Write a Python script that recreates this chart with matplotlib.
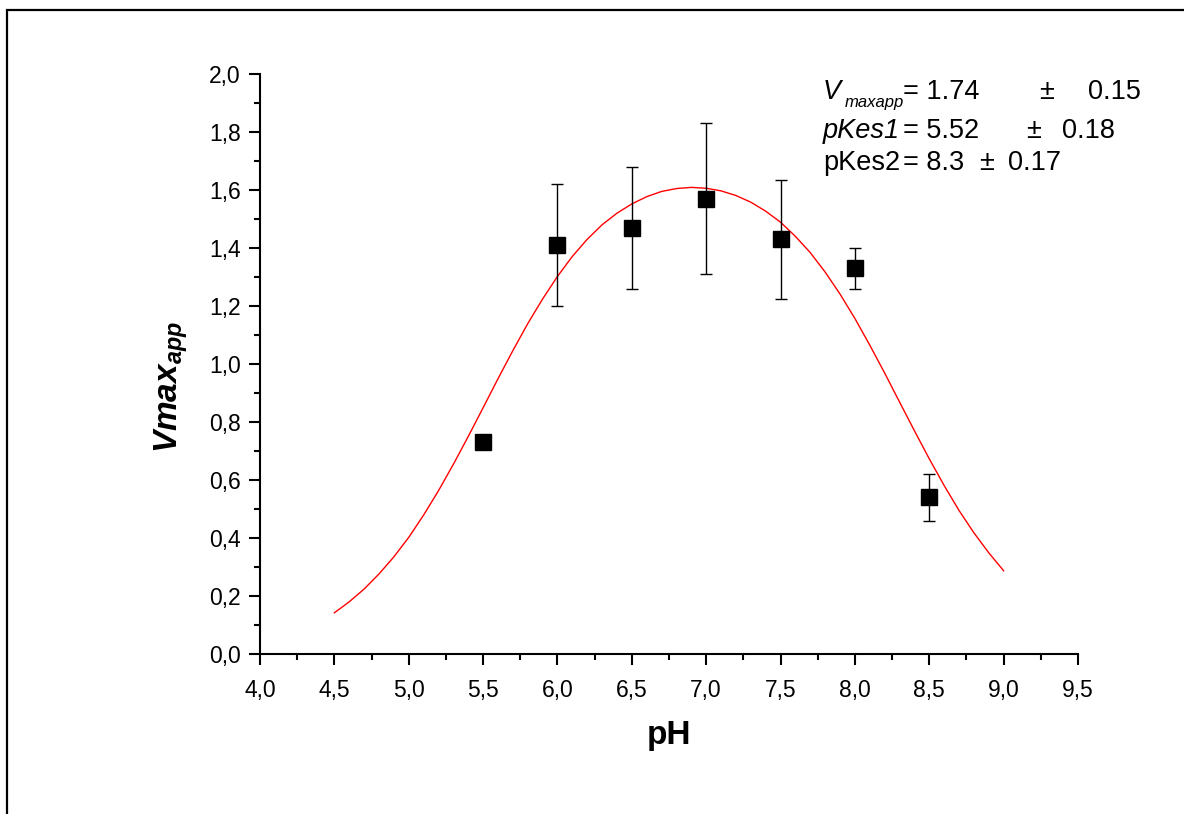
"""Vmax_app vs pH with bell-shaped fit, Origin style."""
import matplotlib
matplotlib.use("Agg")
import matplotlib.pyplot as plt
from matplotlib.patches import Rectangle
from matplotlib.ticker import FuncFormatter, MultipleLocator

# measured points
ph = [5.5, 6.0, 6.5, 7.0, 7.5, 8.0, 8.5]
vmax = [0.73, 1.41, 1.47, 1.57, 1.43, 1.33, 0.54]
vmax_err = [0.0, 0.21, 0.21, 0.26, 0.205, 0.07, 0.08]

# fitted curve, every 0.1 pH
fit_ph = [4.5, 4.6, 4.7, 4.8, 4.9, 5.0, 5.1, 5.2, 5.3, 5.4, 5.5, 5.6, 5.7,
          5.8, 5.9, 6.0, 6.1, 6.2, 6.3, 6.4, 6.5, 6.6, 6.7, 6.8, 6.9, 7.0,
          7.1, 7.2, 7.3, 7.4, 7.5, 7.6, 7.7, 7.8, 7.9, 8.0, 8.1, 8.2, 8.3,
          8.4, 8.5, 8.6, 8.7, 8.8, 8.9, 9.0]
fit_v = [0.142, 0.18, 0.224, 0.276, 0.335, 0.402, 0.479, 0.563, 0.654,
         0.750, 0.849, 0.949, 1.046, 1.139, 1.224, 1.302, 1.371, 1.430,
         1.480, 1.520, 1.552, 1.577, 1.595, 1.605, 1.609, 1.606, 1.597,
         1.581, 1.558, 1.527, 1.489, 1.440, 1.384, 1.317, 1.241, 1.157,
         1.065, 0.969, 0.869, 0.770, 0.673, 0.581, 0.495, 0.418, 0.349,
         0.287]

plt.rcParams["font.family"] = ["Liberation Sans", "DejaVu Sans"]
plt.rcParams["mathtext.fontset"] = "custom"
plt.rcParams["mathtext.rm"] = "Liberation Sans"
plt.rcParams["mathtext.it"] = "Liberation Sans:italic"
plt.rcParams["mathtext.bf"] = "Liberation Sans:bold"
plt.rcParams["mathtext.bfit"] = "Liberation Sans:italic:bold"

W, H = 1184, 814
fig = plt.figure(figsize=(W / 100, H / 100), dpi=100)
ax = fig.add_axes([260 / W, 1 - 654 / H, (1078 - 260) / W, (654 - 74) / H])

# outer frame (only left and top edges fall inside the picture)
fig.patches.append(Rectangle((7 / W, -0.1), 1.2, 1 - 10 / H + 0.1,
                             transform=fig.transFigure, fill=False,
                             lw=1.6, ec="black"))

ax.plot(fit_ph, fit_v, color="red", lw=1.0, zorder=2)
ax.errorbar(ph, vmax, yerr=vmax_err, fmt="s", color="black", ms=12,
            mec="black", ecolor="black", elinewidth=1.0, capsize=4,
            capthick=1.0, zorder=3)

ax.set_xlim(4.0, 9.5)
ax.set_ylim(0.0, 2.0)
for s in ("top", "right"):
    ax.spines[s].set_visible(False)
for s in ("left", "bottom"):
    ax.spines[s].set_linewidth(1.5)

comma = FuncFormatter(lambda v, _: f"{v:.1f}".replace(".", ","))
ax.xaxis.set_major_locator(MultipleLocator(0.5))
ax.xaxis.set_minor_locator(MultipleLocator(0.25))
ax.yaxis.set_major_locator(MultipleLocator(0.2))
ax.yaxis.set_minor_locator(MultipleLocator(0.1))
ax.xaxis.set_major_formatter(comma)
ax.yaxis.set_major_formatter(comma)
ax.tick_params(which="major", length=8, width=1.5, labelsize=16.5)
ax.tick_params(axis="x", which="major", pad=10)
ax.tick_params(axis="y", which="major", pad=6)
ax.tick_params(which="minor", length=4, width=1.5)

ax.set_xlabel("pH", fontsize=24, fontweight="bold", va="top")
ax.xaxis.set_label_coords(0.5, -0.113)
ax.set_ylabel(r"$\mathbfit{Vmax}_{\mathbfit{app}}$", fontsize=24, va="center")
ax.yaxis.set_label_coords(-0.108, 0.46)

# fit parameters
fs = 19.5
def put(x, y, s, size=fs, **kw):
    fig.text(x / W, 1 - y / H, s, fontsize=size, ha="left", va="baseline", **kw)

put(823, 99, "V", style="italic")
put(845, 107, "maxapp", size=12, style="italic")
put(903, 99, "= 1.74")
put(1039, 99, "±")
put(1088, 99, "0.15")
put(823, 138, "pKes1", style="italic")
put(903, 138, "= 5.52")
put(1026, 138, "±")
put(1062, 138, "0.18")
put(823, 170, "pKes2")
put(903, 170, "= 8.3")
put(979, 170, "±")
put(1008, 170, "0.17")

fig.savefig("out.png", dpi=100)
